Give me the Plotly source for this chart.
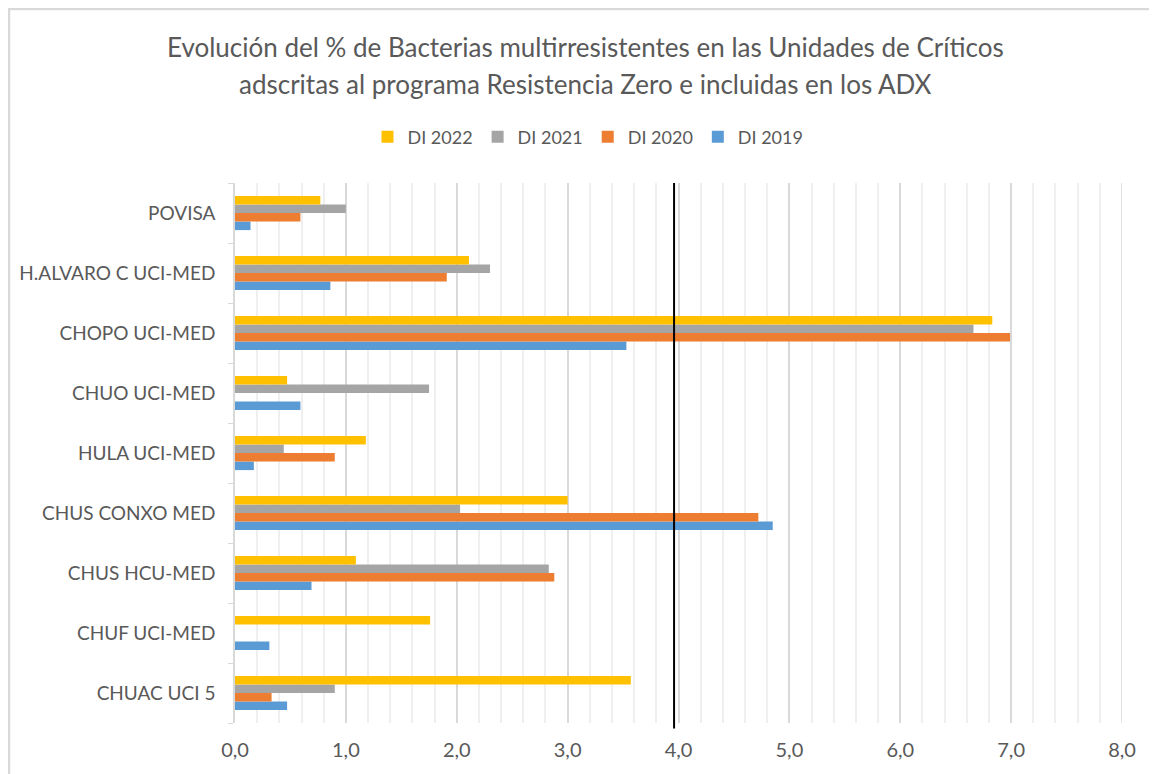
import plotly.graph_objects as go

categories = ["CHUAC UCI 5", "CHUF UCI-MED", "CHUS HCU-MED", "CHUS CONXO MED",
              "HULA UCI-MED", "CHUO UCI-MED", "CHOPO UCI-MED",
              "H.ALVARO C UCI-MED", "POVISA"]
di_2019 = [0.47, 0.31, 0.69, 4.85, 0.17, 0.59, 3.53, 0.86, 0.14]
di_2020 = [0.33, 0, 2.88, 4.72, 0.90, 0, 6.99, 1.91, 0.59]
di_2021 = [0.90, 0, 2.83, 2.03, 0.44, 1.75, 6.66, 2.30, 1.00]
di_2022 = [3.57, 1.76, 1.09, 3.00, 1.18, 0.47, 6.83, 2.11, 0.77]
series_names = ["DI 2019", "DI 2020", "DI 2021", "DI 2022"]
colors = ["#5B9BD5", "#ED7D31", "#A5A5A5", "#FFC000"]
ref_line = 3.96
title_lines = ["Evolución del % de Bacterias multirresistentes en las Unidades de Críticos",
               "adscritas al programa Resistencia Zero e incluidas en los ADX"]

FONT = "Lato, 'Open Sans', sans-serif"
TXT = "#595959"

W, H = 1149, 766
L, R, T, B = 227, 35, 175, 51
PW, PH = W - L - R, H - T - B

fig = go.Figure()
for name, vals, col in zip(series_names, [di_2019, di_2020, di_2021, di_2022], colors):
    fig.add_trace(go.Bar(y=categories, x=vals, name=name, orientation="h",
                         marker=dict(color=col, line=dict(width=0))))

fig.add_shape(type="line", xref="x", yref="paper", x0=ref_line, x1=ref_line,
              y0=-0.01, y1=1, line=dict(color="black", width=2))
# gridline at the right end of the axis
fig.add_shape(type="line", xref="x", yref="paper", x0=8, x1=8, y0=0, y1=1,
              line=dict(color="#d9d9d9", width=1.5), layer="below")

# outer chart border (left and top edges visible)
bx = (1 - L) / PW
by = (PH + T - 1) / PH
fig.add_shape(type="path", xref="paper", yref="paper",
              path=f"M {bx},-0.2 L {bx},{by} L 1.2,{by}",
              line=dict(color="#d9d9d9", width=2.5))

# title lines (screen y 47 and 84 -> figure y minus 8px page margin)
for txt, sy in zip(title_lines, [47, 84]):
    fig.add_annotation(text=txt, xref="paper", yref="paper",
                       x=(585 - 8 - L) / PW, xanchor="center",
                       y=1 + (T - (sy - 8)) / PH, yanchor="middle",
                       showarrow=False, font=dict(size=26, color=TXT, family=FONT))

fig.update_layout(
    width=W, height=H,
    margin=dict(l=L, r=R, t=T, b=B, autoexpand=False),
    paper_bgcolor="white", plot_bgcolor="white",
    separators=",.",
    barmode="group", bargap=0.43, bargroupgap=0,
    font=dict(family=FONT, color=TXT),
    legend=dict(orientation="h", x=(588 - 8 - L) / PW, xanchor="center",
                y=1 + (T - 129) / PH, yanchor="middle",
                traceorder="reversed", font=dict(size=18, color=TXT),
                itemwidth=30),
    xaxis=dict(range=[0, 8], dtick=1, tickformat=".1f", showgrid=True,
               gridcolor="#d9d9d9", gridwidth=1.5, zeroline=False,
               showline=False, ticks="", ticklabelstandoff=13,
               tickfont=dict(size=20, color=TXT),
               minor=dict(dtick=0.2, showgrid=True, gridcolor="#efefef", gridwidth=1.5)),
    yaxis=dict(showgrid=False, showline=True, linecolor="#d9d9d9", linewidth=1.5,
               ticks="outside", tickson="boundaries", ticklen=5, tickcolor="#d9d9d9",
               ticklabelstandoff=14,
               tickfont=dict(size=19, color=TXT)),
)

fig.write_html("out.html")
